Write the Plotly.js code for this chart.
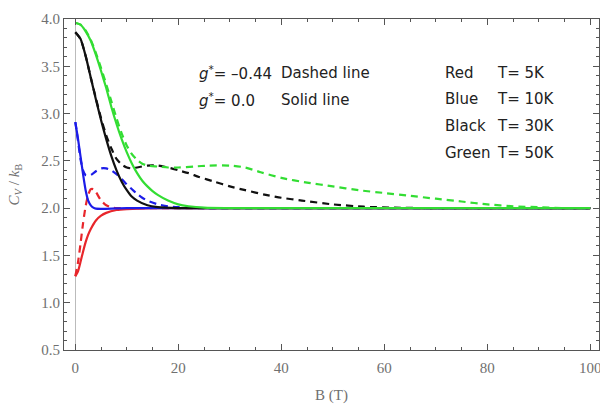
<!DOCTYPE html>
<html>
<head>
<meta charset="utf-8">
<script src="https://cdn.plot.ly/plotly-3.0.1.min.js"></script>
<style>
  html, body { margin: 0; padding: 0; background: #fff; }
  #plot { width: 600px; height: 404px; }
</style>
</head>
<body>
<div id="plot"></div>
<script>
// Heat capacity C_V / k_B versus magnetic field B (T)
// Solid lines: g* = 0.0, dashed lines: g* = -0.44

// T = 5 K (red)
const bRedSolid = [0, 0.5, 1, 1.5, 2, 2.5, 3, 4, 5, 6, 8, 10, 15, 20, 40, 60, 80, 100];
const cvRedSolid = [1.28, 1.33, 1.43, 1.54, 1.64, 1.72, 1.78, 1.87, 1.92, 1.95, 1.98, 1.99, 2.0, 2.0, 2.0, 2.0, 2.0, 2.0];
const bRedDashed = [0, 0.5, 1, 1.5, 2, 2.5, 3, 3.5, 4, 5, 6, 7, 8, 10, 20, 50, 100];
const cvRedDashed = [1.28, 1.42, 1.62, 1.84, 2.02, 2.14, 2.2, 2.2, 2.17, 2.08, 2.03, 2.01, 2.0, 2.0, 2.0, 2.0, 2.0];

// T = 10 K (blue)
const bBlueSolid = [0, 0.5, 1, 1.5, 2, 2.5, 3, 3.5, 4, 5, 7, 10, 20, 50, 100];
const cvBlueSolid = [2.91, 2.74, 2.55, 2.36, 2.19, 2.08, 2.03, 2.005, 1.995, 1.993, 1.995, 2.0, 2.0, 2.0, 2.0];
const bBlueDashed = [0, 0.5, 1, 1.5, 2, 3, 4, 5, 6, 7, 8, 9, 10, 11, 12, 13, 14, 16, 18, 20, 25, 40, 100];
const cvBlueDashed = [2.91, 2.72, 2.52, 2.4, 2.35, 2.35, 2.39, 2.42, 2.42, 2.4, 2.36, 2.31, 2.25, 2.2, 2.15, 2.11, 2.08, 2.04, 2.02, 2.01, 2.0, 2.0, 2.0];

// T = 30 K (black)
const bBlackSolid = [0, 1, 2, 3, 4, 5, 6, 7, 8, 9, 10, 11, 12, 14, 16, 20, 30, 60, 100];
const cvBlackSolid = [3.86, 3.79, 3.61, 3.38, 3.15, 2.93, 2.73, 2.55, 2.4, 2.28, 2.19, 2.12, 2.08, 2.03, 2.01, 2.0, 2.0, 2.0, 2.0];
const bBlackDashed = [0, 1, 2, 3, 4, 5, 6, 7, 8, 9, 10, 11, 12, 14, 16, 18, 20, 22, 24, 27, 30, 33, 37, 40, 44, 50, 56, 62, 70, 100];
const cvBlackDashed = [3.86, 3.79, 3.61, 3.38, 3.16, 2.95, 2.77, 2.63, 2.52, 2.46, 2.43, 2.42, 2.43, 2.45, 2.45, 2.43, 2.4, 2.37, 2.33, 2.28, 2.23, 2.19, 2.14, 2.11, 2.08, 2.04, 2.015, 2.005, 2.0, 2.0];

// T = 50 K (green)
const bGreenSolid = [0, 1, 2, 3, 4, 5, 6, 7, 8, 9, 10, 11, 12, 13, 14, 15, 16, 18, 20, 22, 25, 30, 60, 100];
const cvGreenSolid = [3.96, 3.94, 3.87, 3.77, 3.62, 3.45, 3.27, 3.07, 2.89, 2.73, 2.59, 2.47, 2.37, 2.29, 2.23, 2.18, 2.14, 2.08, 2.04, 2.02, 2.005, 2.0, 2.0, 2.0];
const bGreenDashed = [0, 1, 2, 3, 4, 5, 6, 7, 8, 9, 10, 11, 12, 13, 14, 16, 18, 20, 23, 26, 30, 33, 36, 40, 45, 50, 55, 60, 65, 70, 75, 80, 85, 90, 95, 100];
const cvGreenDashed = [3.96, 3.94, 3.88, 3.78, 3.64, 3.48, 3.31, 3.13, 2.95, 2.79, 2.66, 2.57, 2.51, 2.47, 2.45, 2.44, 2.43, 2.43, 2.44, 2.45, 2.45, 2.43, 2.38, 2.32, 2.27, 2.23, 2.19, 2.16, 2.13, 2.1, 2.07, 2.04, 2.02, 2.01, 2.0, 2.0];

const colRed = '#e8262b';
const colBlue = '#1c1ce8';
const colBlack = '#111111';
const colGreen = '#33dd33';
const dashPattern = '7px,5px';

function curve(x, y, color, dashed) {
  return {
    x: x, y: y, type: 'scatter', mode: 'lines',
    line: { color: color, width: 2.2, shape: 'spline', smoothing: 0.6, dash: dashed ? dashPattern : 'solid' },
    hoverinfo: 'skip'
  };
}

const traces = [
  curve(bRedSolid, cvRedSolid, colRed, false),
  curve(bRedDashed, cvRedDashed, colRed, true),
  curve(bBlueSolid, cvBlueSolid, colBlue, false),
  curve(bBlueDashed, cvBlueDashed, colBlue, true),
  curve(bBlackSolid, cvBlackSolid, colBlack, false),
  curve(bBlackDashed, cvBlackDashed, colBlack, true),
  curve(bGreenDashed, cvGreenDashed, colGreen, true),
  curve(bGreenSolid, cvGreenSolid, colGreen, false)
];

const frameColor = '#555555';
const tickFont = { family: 'Liberation Serif, Times New Roman, serif', size: 15, color: '#707070' };
const noteFont = { family: 'DejaVu Sans, sans-serif', size: 15, color: '#222222' };

function note(text, x, y) {
  return { text: text, x: x, y: y, xref: 'paper', yref: 'paper', xanchor: 'left', yanchor: 'middle', showarrow: false, font: noteFont };
}

const layout = {
  width: 600, height: 404,
  margin: { l: 64, r: 1, t: 19, b: 54 },
  paper_bgcolor: '#ffffff', plot_bgcolor: '#ffffff',
  showlegend: false,
  xaxis: {
    range: [-2.2, 101.7], tick0: 0, dtick: 20,
    ticks: 'inside', ticklen: 6, tickwidth: 1, tickcolor: frameColor,
    minor: { dtick: 5, ticks: 'inside', ticklen: 3, tickwidth: 1, tickcolor: frameColor, showgrid: false },
    showline: true, linecolor: frameColor, linewidth: 1, mirror: 'allticks',
    showgrid: false, zeroline: true, zerolinecolor: '#bbbbbb', zerolinewidth: 1,
    tickfont: tickFont, ticklabeloverflow: 'allow', ticklabelstandoff: 4,
    title: { text: 'B (T)', font: tickFont, standoff: 20 }
  },
  yaxis: {
    range: [0.5, 4.0], tick0: 0.5, dtick: 0.5, tickformat: '.1f',
    ticks: 'inside', ticklen: 6, tickwidth: 1, tickcolor: frameColor,
    minor: { dtick: 0.1, ticks: 'inside', ticklen: 3, tickwidth: 1, tickcolor: frameColor, showgrid: false },
    showline: true, linecolor: frameColor, linewidth: 1, mirror: 'allticks',
    showgrid: false, zeroline: false,
    tickfont: tickFont,
    title: { text: '<i>C</i><sub><i>V</i></sub> / <i>k</i><sub>B</sub>', font: tickFont, standoff: 18 }
  },
  annotations: [
    note('<i>g</i><sup>*</sup>= \u20130.44', 0.249, 0.837),
    note('Dashed line', 0.402, 0.837),
    note('<i>g</i><sup>*</sup>= 0.0', 0.249, 0.755),
    note('Solid line', 0.402, 0.755),
    note('Red', 0.708, 0.837),
    note('T= 5K', 0.806, 0.837),
    note('Blue', 0.708, 0.758),
    note('T= 10K', 0.806, 0.758),
    note('Black', 0.708, 0.677),
    note('T= 30K', 0.806, 0.677),
    note('Green', 0.708, 0.595),
    note('T= 50K', 0.806, 0.595)
  ]
};

Plotly.newPlot('plot', traces, layout, { staticPlot: true, displayModeBar: false });
</script>
</body>
</html>
